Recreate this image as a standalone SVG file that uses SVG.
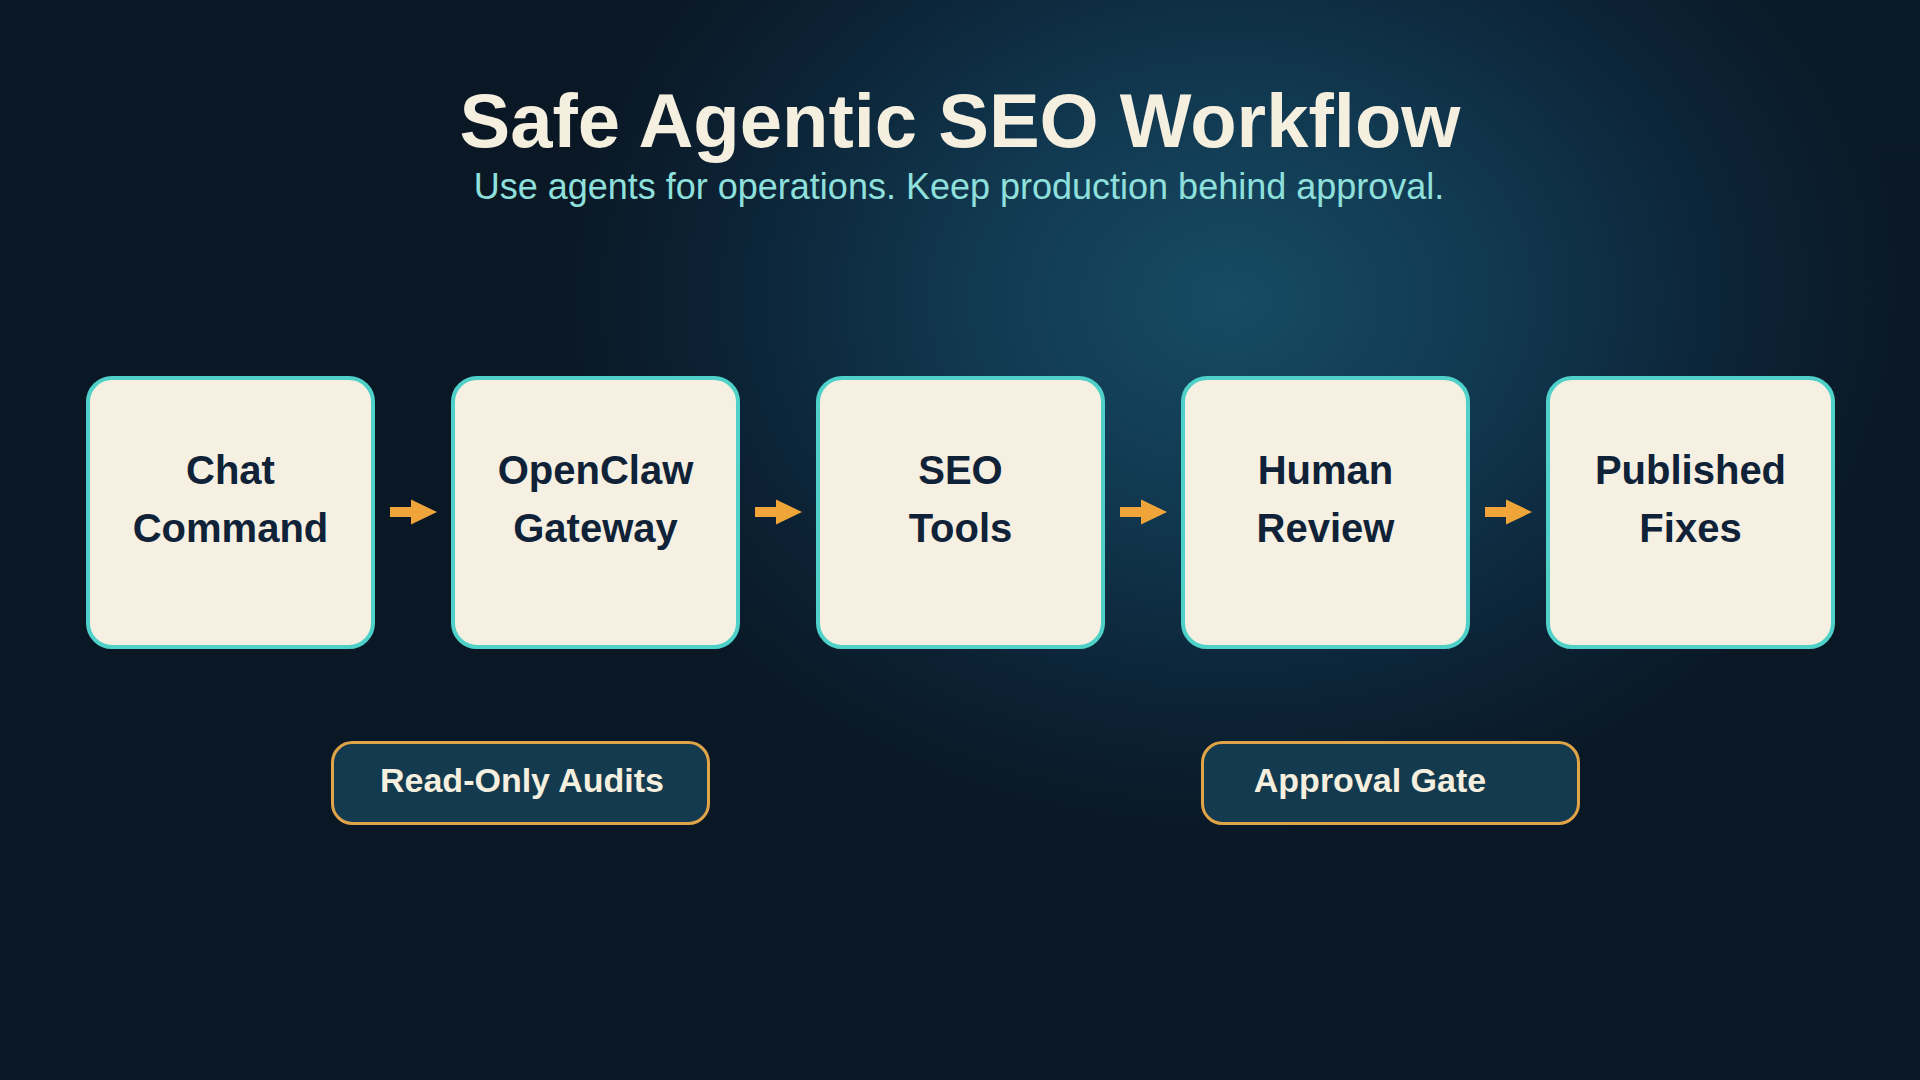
<svg xmlns="http://www.w3.org/2000/svg" width="1920" height="1080" viewBox="0 0 1920 1080">
  <defs>
    <radialGradient id="glow" gradientUnits="userSpaceOnUse" cx="1230" cy="300" r="760" gradientTransform="translate(0 60) scale(1 0.8)">
      <stop offset="0" stop-color="#174e67"/>
      <stop offset="0.35" stop-color="#113a52"/>
      <stop offset="0.65" stop-color="#0c2437"/>
      <stop offset="0.88" stop-color="#0a1826"/>
      <stop offset="1" stop-color="#0a1826"/>
    </radialGradient>
    <radialGradient id="corner" gradientUnits="userSpaceOnUse" cx="1900" cy="0" r="520">
      <stop offset="0" stop-color="#0f3a50" stop-opacity="0.9"/>
      <stop offset="1" stop-color="#0f3a50" stop-opacity="0"/>
    </radialGradient>
    <marker id="arrowhead" markerUnits="userSpaceOnUse" markerWidth="26" markerHeight="26" viewBox="0 0 25 24" refX="0" refY="12" orient="auto">
      <path d="M0,0 L25,12 L0,24 Z" fill="#f0a53a"/>
    </marker>
    <style>
      .node rect { fill: #f5f0e1; stroke: #4fd1c9; stroke-width: 4; }
      .node text { font-family: "Liberation Sans", Arial, sans-serif; font-weight: bold; font-size: 40px; fill: #0f2238; text-anchor: middle; }
      .pill rect { fill: #143a4f; stroke: #e0a448; stroke-width: 3; }
      .pill text { font-family: "Liberation Sans", Arial, sans-serif; font-weight: bold; font-size: 34px; fill: #f5efdf; text-anchor: middle; }
      .conn line { stroke: #f0a53a; stroke-width: 10; marker-end: url(#arrowhead); }
      .title { font-family: "Liberation Sans", Arial, sans-serif; font-weight: bold; font-size: 76px; fill: #f5efdf; text-anchor: middle; }
      .subtitle { font-family: "Liberation Sans", Arial, sans-serif; font-size: 36px; fill: #8fe0dc; text-anchor: middle; }
    </style>
  </defs>
  <rect x="0" y="0" width="1920" height="1080" fill="#0a1826"/>
  <rect x="0" y="0" width="1920" height="1080" fill="url(#corner)"/>
  <rect x="0" y="0" width="1920" height="1080" fill="url(#glow)" opacity="0.95"/>

  <text class="title" x="960" y="147">Safe Agentic SEO Workflow</text>
  <text class="subtitle" x="959" y="199">Use agents for operations. Keep production behind approval.</text>

  <g id="connectors" class="conn">
    <line x1="390" y1="512" x2="411" y2="512"/>
    <line x1="755" y1="512" x2="776" y2="512"/>
    <line x1="1120" y1="512" x2="1141" y2="512"/>
    <line x1="1485" y1="512" x2="1506" y2="512"/>
  </g>

  <g id="node-chat-command" class="node">
    <rect x="88" y="378" width="285" height="269" rx="24"/>
    <text x="230.5" y="484">Chat</text>
    <text x="230.5" y="542">Command</text>
  </g>
  <g id="node-openclaw-gateway" class="node">
    <rect x="453" y="378" width="285" height="269" rx="24"/>
    <text x="595.5" y="484">OpenClaw</text>
    <text x="595.5" y="542">Gateway</text>
  </g>
  <g id="node-seo-tools" class="node">
    <rect x="818" y="378" width="285" height="269" rx="24"/>
    <text x="960.5" y="484">SEO</text>
    <text x="960.5" y="542">Tools</text>
  </g>
  <g id="node-human-review" class="node">
    <rect x="1183" y="378" width="285" height="269" rx="24"/>
    <text x="1325.5" y="484">Human</text>
    <text x="1325.5" y="542">Review</text>
  </g>
  <g id="node-published-fixes" class="node">
    <rect x="1548" y="378" width="285" height="269" rx="24"/>
    <text x="1690.5" y="484">Published</text>
    <text x="1690.5" y="542">Fixes</text>
  </g>

  <g id="badge-read-only-audits" class="pill">
    <rect x="332.5" y="742.5" width="376" height="81" rx="20"/>
    <text x="522" y="792">Read-Only Audits</text>
  </g>
  <g id="badge-approval-gate" class="pill">
    <rect x="1202.5" y="742.5" width="376" height="81" rx="20"/>
    <text x="1370" y="792">Approval Gate</text>
  </g>
</svg>
